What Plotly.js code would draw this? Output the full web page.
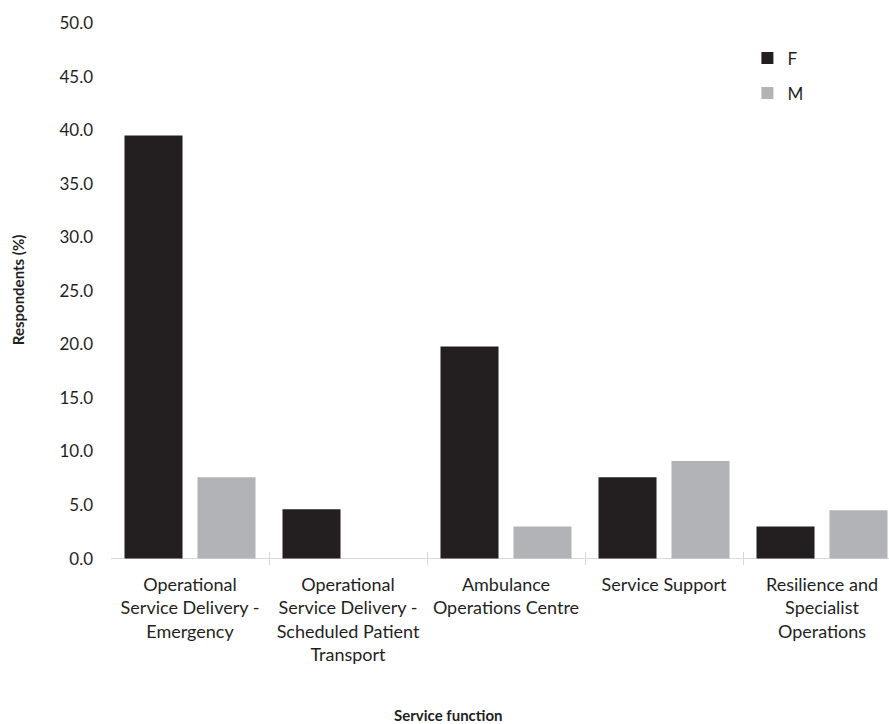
<!DOCTYPE html>
<html>
<head>
<meta charset="utf-8">
<script src="https://cdn.plot.ly/plotly-3.0.1.min.js"></script>
<style>
  html, body { margin: 0; padding: 0; background: #ffffff; overflow: hidden; }
  #chart { width: 889px; height: 724px; }
</style>
</head>
<body>
<div id="chart"></div>
<script>
// Service functions (tick labels, wrapped onto several lines)
const categories = [
  "Operational<br>Service Delivery -<br>Emergency",
  "Operational<br>Service Delivery -<br>Scheduled Patient<br>Transport",
  "Ambulance<br>Operations Centre",
  "Service Support",
  "Resilience and<br>Specialist<br>Operations"
];

// Share of respondents (%) in each service function, by sex
const femaleValues = [39.5, 4.6, 19.8, 7.6, 3.0];
const maleValues = [7.6, 0.0, 3.0, 9.1, 4.5];

const yTickVals = [0, 5, 10, 15, 20, 25, 30, 35, 40, 45, 50];

const fontFamily = "Lato, 'Open Sans', sans-serif";
const textColor = "#1f1f1f";

const traces = [
  {
    type: "bar",
    name: "F",
    x: categories,
    y: femaleValues,
    marker: { color: "#231f20", line: { width: 0 } },
    legendgroup: "f",
    hoverinfo: "y+name"
  },
  {
    type: "bar",
    name: "M",
    x: categories,
    y: maleValues,
    marker: { color: "#b2b3b6", line: { width: 0 } },
    legendgroup: "m",
    hoverinfo: "y+name"
  }
];

const layout = {
  width: 889,
  height: 724,
  margin: { l: 111, r: 0, t: 23, b: 159, pad: 0 },
  paper_bgcolor: "#ffffff",
  plot_bgcolor: "#ffffff",
  font: { family: fontFamily, size: 17, color: textColor },
  barmode: "group",
  bargap: 0.076,
  bargroupgap: 0.205,
  showlegend: true,
  legend: {
    x: 0.818,
    y: 0.968,
    xanchor: "left",
    yanchor: "top",
    bgcolor: "rgba(0,0,0,0)",
    font: { family: fontFamily, size: 17, color: textColor },
    traceorder: "grouped",
    tracegroupgap: 10
  },
  xaxis: {
    type: "category",
    range: [-0.5, 4.424],
    showline: false,
    showgrid: false,
    zeroline: false,
    tickson: "boundaries",
    ticks: "inside",
    ticklen: 13,
    tickwidth: 1,
    tickcolor: "#d9d9d9",
    ticklabelstandoff: 7,
    tickfont: { family: fontFamily, size: 18, color: textColor },
    fixedrange: true
  },
  yaxis: {
    range: [-0.6, 50],
    tickvals: yTickVals,
    tickformat: ".1f",
    showline: false,
    showgrid: false,
    ticks: "",
    zeroline: true,
    zerolinecolor: "#d9d9d9",
    zerolinewidth: 1,
    ticklabelstandoff: 17,
    tickfont: { family: fontFamily, size: 17, color: textColor },
    fixedrange: true
  },
  annotations: [
    {
      text: "<b>Service function</b>",
      xref: "paper", yref: "paper",
      x: 0.4344, y: -0.2766,
      xanchor: "center", yanchor: "middle",
      showarrow: false,
      font: { family: fontFamily, size: 15, color: textColor }
    },
    {
      text: "<b>Respondents (%)</b>",
      xref: "paper", yref: "paper",
      x: -0.1195, y: 0.507,
      xanchor: "center", yanchor: "middle",
      textangle: -90,
      showarrow: false,
      font: { family: fontFamily, size: 15, color: textColor }
    }
  ]
};

Plotly.newPlot("chart", traces, layout, { displayModeBar: false, staticPlot: true });
</script>
</body>
</html>
